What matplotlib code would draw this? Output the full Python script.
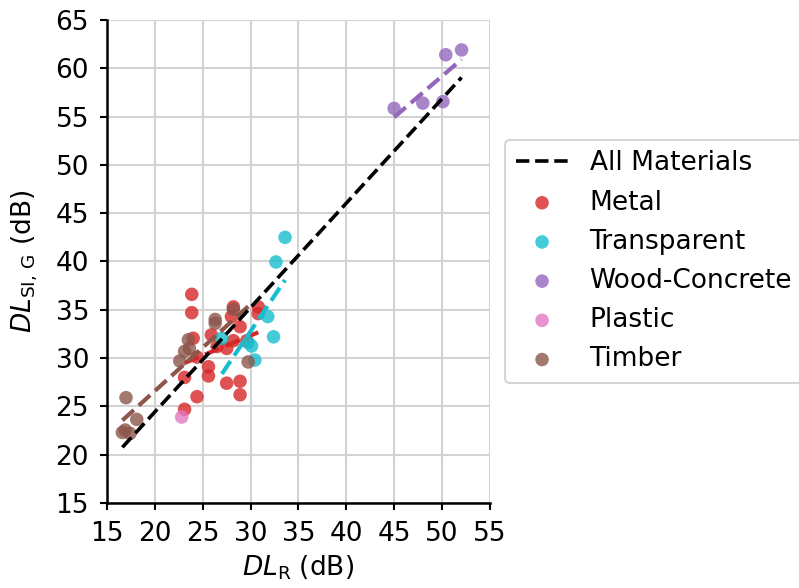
import numpy as np
import matplotlib
matplotlib.use("Agg")
import matplotlib.pyplot as plt

# data (DL_R, DL_SI,G in dB)
metal_x = [23.85, 23.85, 28.2, 28.0, 28.9, 30.8, 30.8, 25.9, 24.0, 28.2, 27.5, 29.6,
           24.4, 25.6, 25.6, 23.1, 27.5, 28.9, 28.9, 24.4, 23.1, 26.5]
metal_y = [36.6, 34.7, 35.3, 34.3, 33.25, 35.3, 34.6, 32.4, 32.05, 31.8, 31.0, 31.8,
           30.1, 29.1, 28.15, 28.0, 27.4, 27.6, 26.2, 26.0, 24.7, 31.2]
transp_x = [31.8, 32.4, 27.0, 29.75, 30.1, 30.45, 32.65, 33.6]
transp_y = [34.3, 32.2, 32.05, 31.6, 31.25, 29.8, 39.95, 42.5]
wood_x = [45.0, 48.0, 50.1, 50.4, 52.05]
wood_y = [55.85, 56.4, 56.55, 61.4, 61.9]
plastic_x = [22.8]
plastic_y = [23.9]
timber_x = [26.3, 26.3, 28.2, 23.5, 23.1, 22.6, 29.75, 16.98, 18.1, 16.9, 17.4, 16.6, 23.6]
timber_y = [34.0, 33.6, 35.05, 31.9, 30.7, 29.7, 29.6, 25.9, 23.65, 22.55, 22.2, 22.3, 31.0]

groups = [
    ("Metal", metal_x, metal_y, "#d62728"),
    ("Transparent", transp_x, transp_y, "#17becf"),
    ("Wood-Concrete", wood_x, wood_y, "#9467bd"),
    ("Plastic", plastic_x, plastic_y, "#e377c2"),
    ("Timber", timber_x, timber_y, "#8c564b"),
]

plt.rcParams["font.size"] = 19
plt.rcParams["axes.linewidth"] = 1.8

fig = plt.figure(figsize=(7.99, 5.88), dpi=100)
ax = fig.add_axes([0.134, 0.1446, 0.479, 0.8214])

# overall fit
all_x = np.concatenate([np.array(g[1]) for g in groups])
all_y = np.concatenate([np.array(g[2]) for g in groups])
m, b = np.polyfit(all_x, all_y, 1)
xs = np.array([all_x.min(), all_x.max()])
ax.plot(xs, m * xs + b, "--", color="black", lw=2.6, label="All Materials", zorder=4)

for name, gx, gy, col in groups:
    gx = np.array(gx)
    gy = np.array(gy)
    ax.scatter(gx, gy, s=95, color=col, alpha=0.8, edgecolors="none", label=name, zorder=3)
    if len(gx) > 1:
        gm, gb = np.polyfit(gx, gy, 1)
        xx = np.array([gx.min(), gx.max()])
        ax.plot(xx, gm * xx + gb, "--", color=col, lw=3, zorder=3)

ax.set_xlim(15, 55)
ax.set_ylim(15, 65)
ax.set_xticks(np.arange(15, 56, 5))
ax.set_yticks(np.arange(15, 66, 5))
ax.grid(True, color="#d3d3d3", lw=1.5)
ax.set_axisbelow(True)
for s in ["top", "right"]:
    ax.spines[s].set_visible(False)
ax.tick_params(direction="out", length=5, width=1.5, pad=8)
ax.set_xlabel(r"$DL_{\mathrm{R}}$ (dB)", labelpad=5)
ax.set_ylabel(r"$DL_{\mathrm{SI,\,G}}$ (dB)", labelpad=11)

leg = ax.legend(loc="center left", bbox_to_anchor=(1.04, 0.5), borderaxespad=0, fontsize=19)
leg.get_frame().set_linewidth(1.5)

fig.savefig("out.png", dpi=100)
